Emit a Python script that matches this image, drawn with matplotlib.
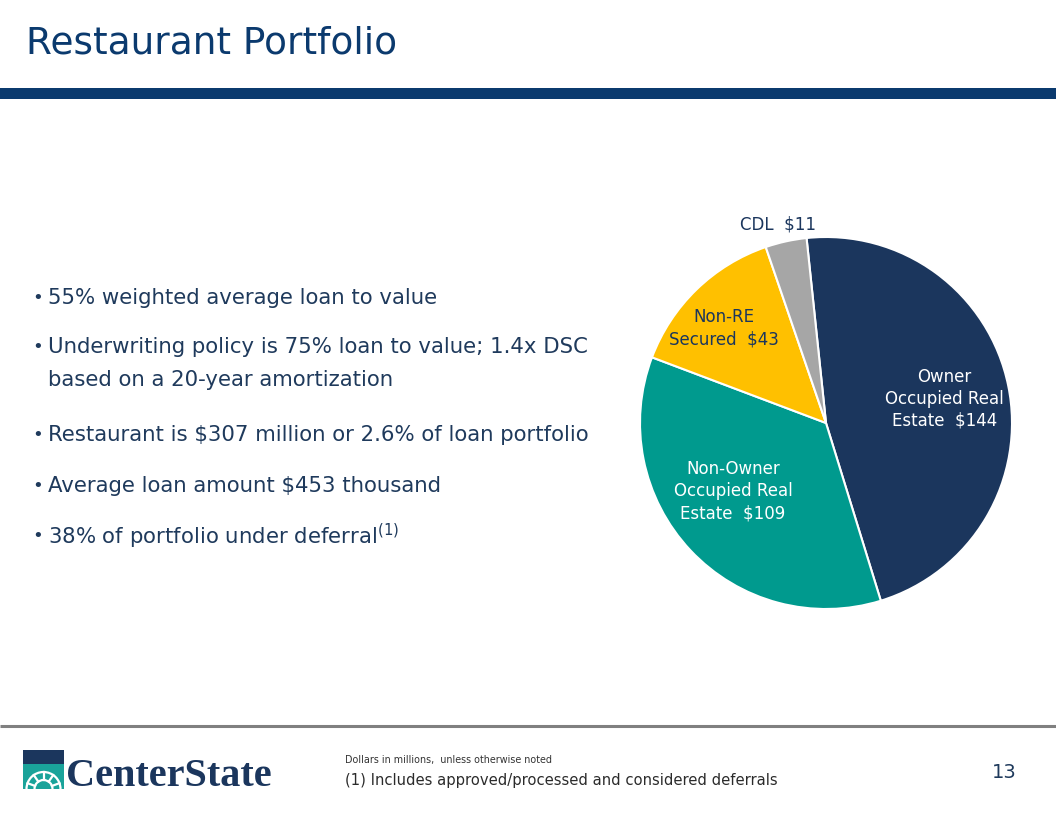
import matplotlib
matplotlib.use("Agg")
import matplotlib.pyplot as plt
import numpy as np
from matplotlib.patches import Rectangle, Arc

# ---------------- data ----------------
title = "Restaurant Portfolio"
categories = ["Owner\nOccupied Real\nEstate", "Non-Owner\nOccupied Real\nEstate",
              "Non-RE\nSecured", "CDL"]
values = [144, 109, 43, 11]
bullets = [
    "55% weighted average loan to value",
    "Underwriting policy is 75% loan to value; 1.4x DSC\nbased on a 20-year amortization",
    "Restaurant is $307 million or 2.6% of loan portfolio",
    "Average loan amount $453 thousand",
    "38% of portfolio under deferral$^{(1)}$",
]
note_small = "Dollars in millions,  unless otherwise noted"
footnote = "(1) Includes approved/processed and considered deferrals"
page_no = "13"

# ---------------- style ----------------
W, H = 1056, 816
NAVY = "#1B365D"
TITLE_BLUE = "#0B3A6E"
TEAL = "#009A8E"
YELLOW = "#FFC000"
GRAY = "#A6A6A6"
TEXT = "#1F3A5C"
colors = [NAVY, TEAL, YELLOW, GRAY]
label_colors = ["white", "white", NAVY, NAVY]
label_r = [0.65, 0.62, 0.75, 1.10]
label_dang = [0, -7, 3, 1]

plt.rcParams["font.family"] = ["DejaVu Sans"]
fig = plt.figure(figsize=(W / 100, H / 100), dpi=100)
bg = fig.add_axes([0, 0, 1, 1])
bg.set_xlim(0, W)
bg.set_ylim(H, 0)
bg.axis("off")

# title and bar
bg.text(26, 44, title, fontsize=27, color=TITLE_BLUE, ha="left", va="center")
bg.add_patch(Rectangle((0, 88), W, 11, color=TITLE_BLUE, lw=0))

# bullets
bullet_y = [298, 347, 435, 486, 536]
for y, b in zip(bullet_y, bullets):
    bg.text(32, y, "•", fontsize=13, color=TEXT, ha="left", va="center")
    for i, ln in enumerate(b.split("\n")):
        bg.text(48, y + i * 33, ln, fontsize=15.3, color=TEXT, ha="left", va="center")

# footer
bg.plot([0, W], [726, 726], color="#808080", lw=2.2, solid_capstyle="butt")
bg.text(345, 760, note_small, fontsize=6.9, color="#333333", ha="left", va="center")
bg.text(345, 780, footnote, fontsize=10.6, color="#2B2B2B", ha="left", va="center",
        weight="medium")
bg.text(1017, 773, page_no, fontsize=14, color=TEXT, ha="right", va="center")

# logo (simplified)
bg.add_patch(Rectangle((23, 750), 41, 14, color=NAVY, lw=0))
bg.add_patch(Rectangle((23, 764), 41, 25, color="#1AA39A", lw=0))
cx, cy = 43.5, 789
for r in (9, 17):
    bg.add_patch(Arc((cx, cy), 2 * r, 2 * r, theta1=180, theta2=360, color="white", lw=1.6))
for a in np.radians([200, 235, 270, 305, 340]):
    bg.plot([cx + 9 * np.cos(a), cx + 17 * np.cos(a)], [cy + 9 * np.sin(a), cy + 17 * np.sin(a)],
            color="white", lw=1.6)
bg.text(66, 777, "CenterState", fontsize=29, family="Liberation Serif", weight="bold",
        color=NAVY, ha="left", va="center")

# pie
pcx, pcy, pr = 826, 423, 186
ax = fig.add_axes([(pcx - pr) / W, (H - pcy - pr) / H, 2 * pr / W, 2 * pr / H])
wedges, _ = ax.pie(values, colors=colors, startangle=96, counterclock=False,
                   wedgeprops=dict(edgecolor="white", linewidth=1.5))
ax.set_xlim(-1, 1)
ax.set_ylim(-1, 1)
ax.set_aspect("equal")
for w, cat, v, r, da, lc in zip(wedges, categories, values, label_r, label_dang, label_colors):
    mid = np.radians((w.theta1 + w.theta2) / 2 + da)
    txt = f"{cat}  ${v}"
    ax.text(r * np.cos(mid), r * np.sin(mid), txt, ha="center", va="center",
            multialignment="center", fontsize=12, color=lc, linespacing=1.3, clip_on=False)

fig.savefig("out.png", dpi=100)
